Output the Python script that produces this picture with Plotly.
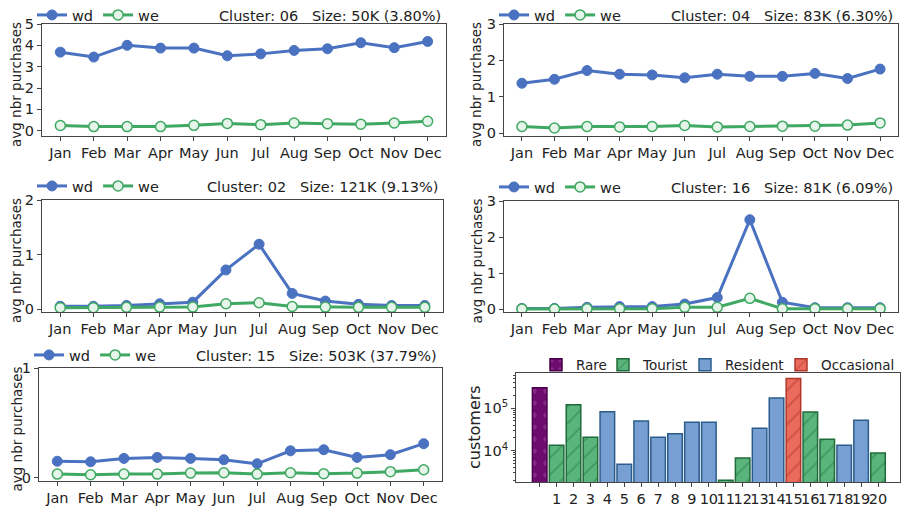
import plotly.graph_objects as go

months = ["Jan", "Feb", "Mar", "Apr", "May", "Jun", "Jul", "Aug", "Sep", "Oct", "Nov", "Dec"]

c06_wd = [3.68, 3.45, 4.00, 3.87, 3.87, 3.51, 3.60, 3.76, 3.84, 4.12, 3.89, 4.18]
c06_we = [0.24, 0.19, 0.19, 0.19, 0.25, 0.34, 0.28, 0.36, 0.33, 0.30, 0.36, 0.44]
c04_wd = [1.37, 1.48, 1.72, 1.62, 1.60, 1.52, 1.62, 1.56, 1.56, 1.64, 1.50, 1.76]
c04_we = [0.18, 0.14, 0.18, 0.17, 0.18, 0.21, 0.17, 0.18, 0.19, 0.19, 0.22, 0.28]
c02_wd = [0.055, 0.055, 0.07, 0.10, 0.13, 0.72, 1.19, 0.29, 0.15, 0.09, 0.07, 0.07]
c02_we = [0.03, 0.03, 0.035, 0.04, 0.04, 0.10, 0.12, 0.05, 0.04, 0.035, 0.035, 0.035]
c16_wd = [0.02, 0.02, 0.05, 0.07, 0.07, 0.14, 0.32, 2.48, 0.19, 0.04, 0.04, 0.04]
c16_we = [0.00, 0.00, 0.01, 0.01, 0.01, 0.05, 0.05, 0.30, 0.01, 0.01, 0.01, 0.01]
c15_wd = [0.150, 0.145, 0.176, 0.185, 0.176, 0.164, 0.127, 0.245, 0.255, 0.185, 0.210, 0.310]
c15_we = [0.033, 0.027, 0.033, 0.033, 0.042, 0.045, 0.033, 0.045, 0.036, 0.042, 0.055, 0.073]

panel_texts = ["Cluster: 06   Size: 50K (3.80%)", "Cluster: 04   Size: 83K (6.30%)",
               "Cluster: 02   Size: 121K (9.13%)", "Cluster: 16   Size: 81K (6.09%)",
               "Cluster: 15   Size: 503K (37.79%)"]

cluster_ids = list(range(21))
cluster_labels = [""] + [str(i) for i in range(1, 21)]
cluster_sizes = [302000, 13300, 121000, 20600, 83000, 4800, 50000, 20600, 25000, 46600, 46600,
                 2000, 6700, 33700, 175000, 503000, 81000, 18500, 13300, 52000, 8800]
cluster_types = ["Rare", "Tourist", "Tourist", "Tourist", "Resident", "Resident", "Resident",
                 "Resident", "Resident", "Resident", "Resident", "Tourist", "Tourist", "Resident",
                 "Resident", "Occasional", "Tourist", "Tourist", "Resident", "Resident", "Tourist"]
type_order = ["Rare", "Tourist", "Resident", "Occasional"]

# page body has an 8px margin: figure sized to the remaining window area
OFF = 8
W, H = 909 - OFF, 507 - OFF
BLUE = "#4A72C0"
GREEN = "#3FA862"
FONT = "DejaVu Sans"
AX = "#444444"
TXT = "#222222"

def px_x(v):
    return (v - OFF) / W

def px_y(v):
    return 1 - (v - OFF) / H

# panel boxes in window pixels: (left, right, top, bottom)
boxes = [(42, 446, 24, 136), (504, 898, 24, 136), (42, 443, 200, 312),
         (504, 898, 201, 312), (39, 442, 368, 481), (516, 900, 373, 482)]
yranges = [[-0.25, 5], [-0.08, 3], [-0.05, 2], [-0.08, 3], [-0.03, 1]]
ydticks = [[0, 1, 2, 3, 4, 5], [0, 1, 2, 3], [0, 1, 2], [0, 1, 2, 3], [0, 1]]
series = [(c06_wd, c06_we), (c04_wd, c04_we), (c02_wd, c02_we), (c16_wd, c16_we), (c15_wd, c15_we)]
legend_y = [15, 15, 186, 187, 355]

fig = go.Figure()
layout = dict(width=W, height=H, margin=dict(l=0, r=0, t=0, b=0, autoexpand=False),
              paper_bgcolor="white", plot_bgcolor="white",
              font=dict(family=FONT, size=14, color=TXT), annotations=[])

for i in range(5):
    n = i + 1
    xa = "x" if n == 1 else f"x{n}"
    ya = "y" if n == 1 else f"y{n}"
    lg = "legend" if n == 1 else f"legend{n}"
    wd, we = series[i]
    fig.add_trace(go.Scatter(x=months, y=wd, mode="lines+markers", name="wd",
                             line=dict(color=BLUE, width=3),
                             marker=dict(size=10, color=BLUE, line=dict(color=BLUE, width=1)),
                             xaxis=xa, yaxis=ya, legend=lg))
    fig.add_trace(go.Scatter(x=months, y=we, mode="lines+markers", name="we",
                             line=dict(color=GREEN, width=3),
                             marker=dict(size=10, color="#E6F5EA", line=dict(color=GREEN, width=1.5)),
                             xaxis=xa, yaxis=ya, legend=lg))
    l, r, t, b = boxes[i]
    layout["xaxis" if n == 1 else f"xaxis{n}"] = dict(
        domain=[px_x(l), px_x(r)], anchor=ya, type="category", range=[-0.55, 11.55],
        showline=True, mirror=True, linecolor=AX, linewidth=1, ticks="outside",
        ticklen=4, tickcolor=AX, showgrid=False, zeroline=False, tickangle=0,
        tickfont=dict(size=14.5, color=TXT), fixedrange=True)
    layout["yaxis" if n == 1 else f"yaxis{n}"] = dict(
        domain=[px_y(b), px_y(t)], anchor=xa, range=yranges[i], tickvals=ydticks[i],
        showline=True, mirror=True, linecolor=AX, linewidth=1, ticks="outside",
        ticklen=4, tickcolor=AX, showgrid=False, zeroline=False,
        tickfont=dict(size=14.5, color=TXT), fixedrange=True)
    layout[lg] = dict(x=px_x(l - 10), y=px_y(legend_y[i]), xanchor="left", yanchor="middle",
                      orientation="h", font=dict(size=14.5), bgcolor="rgba(0,0,0,0)",
                      itemwidth=30, tracegroupgap=0)
    layout["annotations"].append(dict(text=panel_texts[i], x=px_x(r - 3), y=px_y(legend_y[i] + 1),
                                      xref="paper", yref="paper", xanchor="right", yanchor="middle",
                                      showarrow=False, font=dict(size=14.5, color=TXT)))
    layout["annotations"].append(dict(text="avg nbr purchases", x=px_x(16 if l < 300 else 476),
                                      y=px_y((t + b) / 2 + 5), xref="paper", yref="paper",
                                      textangle=-90, xanchor="center", yanchor="middle",
                                      showarrow=False, font=dict(size=13.5, color=TXT)))

# bar chart
type_style = {
    "Rare": dict(fill="#6E0B6E", edge="#4A004A", shape=".", fg="#9A4A9A"),
    "Tourist": dict(fill="#5AB57C", edge="#1F6B3A", shape="/", fg="#2A7A45"),
    "Resident": dict(fill="#779FD2", edge="#2B5D8C", shape="", fg="#2B5D8C"),
    "Occasional": dict(fill="#EA6A5C", edge="#B0362C", shape="/", fg="#B0362C"),
}
bar_legend_x = {"Rare": 536, "Tourist": 603, "Resident": 685, "Occasional": 781}
for j, tname in enumerate(type_order):
    xs = [cluster_ids[k] for k in range(21) if cluster_types[k] == tname]
    ys = [cluster_sizes[k] for k in range(21) if cluster_types[k] == tname]
    st = type_style[tname]
    lg = f"legend{6 + j}"
    fig.add_trace(go.Bar(x=xs, y=ys, name=tname, width=0.86,
                         marker=dict(color=st["fill"], line=dict(color=st["edge"], width=1.5),
                                     pattern=dict(shape=st["shape"], fgcolor=st["fg"], size=12,
                                                  solidity=0.15)),
                         xaxis="x6", yaxis="y6", legend=lg))
    layout[lg] = dict(x=px_x(bar_legend_x[tname]), y=px_y(365), xanchor="left", yanchor="middle",
                      orientation="h", font=dict(size=13.5), bgcolor="rgba(0,0,0,0)",
                      itemwidth=30)

l, r, t, b = boxes[5]
minor_vals = [m * 10 ** e for e in (3, 4, 5) for m in range(2, 10) if 1800 <= m * 10 ** e <= 680000]
layout["xaxis6"] = dict(domain=[px_x(l), px_x(r)], anchor="y6", range=[-1.4, 21.3],
                        tickvals=cluster_ids, ticktext=cluster_labels, showline=True, mirror=True,
                        linecolor=AX, linewidth=1, ticks="outside", ticklen=4, tickcolor=AX,
                        showgrid=False, zeroline=False, tickangle=0,
                        tickfont=dict(size=14.5, color=TXT), fixedrange=True)
layout["yaxis6"] = dict(domain=[px_y(b), px_y(t)], anchor="x6", type="log", range=[3.26, 5.83],
                        tickvals=[1e4, 1e5], ticktext=["10<sup>4</sup>", "10<sup>5</sup>"],
                        showline=True, mirror=True, linecolor=AX, linewidth=1, ticks="outside",
                        ticklen=4, tickcolor=AX, showgrid=False, zeroline=False,
                        minor=dict(tickvals=minor_vals, ticks="outside", ticklen=2, tickcolor=AX,
                                   showgrid=False),
                        tickfont=dict(size=14.5, color=TXT), fixedrange=True)
layout["annotations"].append(dict(text="customers", x=px_x(474), y=px_y(427), xref="paper",
                                  yref="paper", textangle=-90, xanchor="center", yanchor="middle",
                                  showarrow=False, font=dict(size=16, color=TXT)))

fig.update_layout(**layout)
fig.write_html("out.html")
